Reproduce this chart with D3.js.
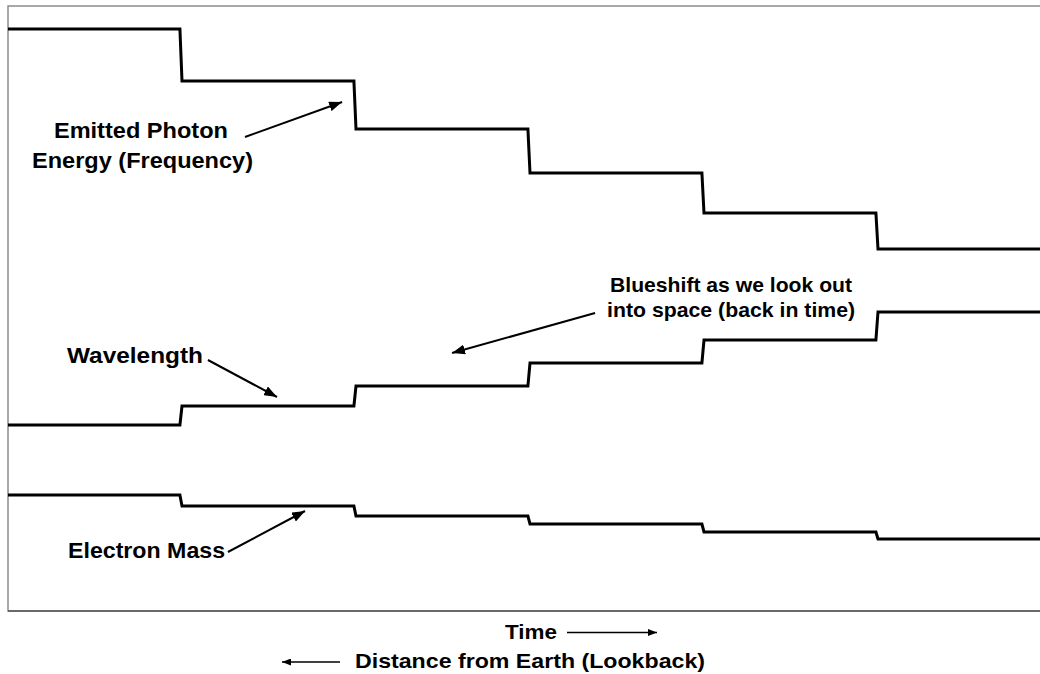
<!DOCTYPE html>
<html>
<head>
<meta charset="utf-8">
<script src="https://cdn.jsdelivr.net/npm/d3@7"></script>
<style>
  html, body { margin: 0; padding: 0; background: #fff; }
  svg { display: block; }
  text { font-family: "Liberation Sans", Arial, sans-serif; font-weight: bold; fill: #000; }
</style>
</head>
<body>
<svg id="chart" width="1040" height="674"></svg>
<script>
// ---- Data (arbitrary relative units) ----
const stepTimes = [1, 2, 3, 4, 5];                 // epochs where each value changes
const photonEnergy = [581, 529, 481, 437, 397, 361];
const wavelength   = [185, 204, 224, 247, 270, 298];
const electronMass = [115, 104, 94, 86, 78, 71];
const timeEnd = 5.94;
const slant = 0.012;                                 // width of each transition

const seriesLabels = [
  { lines: ["Emitted Photon", "Energy (Frequency)"], size: 22, t: [0.264, 0.138], v: [472, 442], w: [174, 221], from: [1.362, 473], to: [1.920, 508] },
  { lines: ["Wavelength"], size: 22, t: [0.339], v: [247], w: [136], from: [1.149, 250], to: [1.546, 213] },
  { lines: ["Electron Mass"], size: 22, t: [0.345], v: [52], w: [157], from: [1.264, 58], to: [1.707, 99] },
  { lines: ["Blueshift as we look out", "into space (back in time)"], size: 21, t: [3.460, 3.443], v: [318, 293], w: [242, 248], from: [3.374, 297], to: [2.552, 257] }
];
const xTitle = "Time";
const xTitle2 = "Distance from Earth (Lookback)";

// ---- Layout ----
const svg = d3.select("#chart");
const plot = { left: 8, top: 6, right: 1041, bottom: 611 };

const x = d3.scaleLinear().domain([0, timeEnd]).range([plot.left, plot.left + timeEnd * 174]);
const y = d3.scaleLinear().domain([0, 604]).range([plot.bottom - 1, plot.top]);

// markers
const defs = svg.append("defs");
defs.append("marker").attr("id", "ah").attr("viewBox", "0 0 13 10")
  .attr("refX", 13).attr("refY", 5).attr("markerWidth", 13).attr("markerHeight", 10)
  .attr("markerUnits", "userSpaceOnUse").attr("orient", "auto")
  .append("path").attr("d", "M0,0 L13,5 L0,10 Z").attr("fill", "#000");
defs.append("marker").attr("id", "ahs").attr("viewBox", "0 0 9 7")
  .attr("refX", 9).attr("refY", 3.5).attr("markerWidth", 9).attr("markerHeight", 7)
  .attr("markerUnits", "userSpaceOnUse").attr("orient", "auto")
  .append("path").attr("d", "M0,0 L9,3.5 L0,7 Z").attr("fill", "#000");

// plot frame
svg.append("rect")
  .attr("x", plot.left).attr("y", plot.top)
  .attr("width", plot.right - plot.left).attr("height", plot.bottom - plot.top)
  .attr("fill", "none").attr("stroke", "#8c8c8c").attr("stroke-width", 1.5);
svg.append("line")
  .attr("x1", plot.left).attr("x2", plot.right)
  .attr("y1", plot.bottom).attr("y2", plot.bottom)
  .attr("stroke", "#555").attr("stroke-width", 1.5);

// build step points
function stepPoints(vals) {
  const pts = [[0, vals[0]]];
  stepTimes.forEach((t, i) => {
    pts.push([t - slant, vals[i]]);
    pts.push([t, vals[i + 1]]);
  });
  pts.push([timeEnd, vals[vals.length - 1]]);
  return pts;
}
const line = d3.line().x(d => x(d[0])).y(d => y(d[1]));

[photonEnergy, wavelength, electronMass].forEach(vals => {
  svg.append("path")
    .attr("d", line(stepPoints(vals)))
    .attr("fill", "none").attr("stroke", "#000")
    .attr("stroke-width", 3).attr("stroke-linejoin", "miter");
});

// annotations
seriesLabels.forEach(a => {
  a.lines.forEach((s, i) => {
    svg.append("text")
      .attr("x", x(a.t[i])).attr("y", y(a.v[i]))
      .attr("font-size", a.size)
      .attr("textLength", a.w[i]).attr("lengthAdjust", "spacingAndGlyphs")
      .text(s);
  });
  svg.append("line")
    .attr("x1", x(a.from[0])).attr("y1", y(a.from[1]))
    .attr("x2", x(a.to[0])).attr("y2", y(a.to[1]))
    .attr("stroke", "#000").attr("stroke-width", 2)
    .attr("marker-end", "url(#ah)");
});

// axis titles with arrows
svg.append("text").attr("x", 505).attr("y", 638.5).attr("font-size", 21)
  .attr("textLength", 52).attr("lengthAdjust", "spacingAndGlyphs").text(xTitle);
svg.append("line").attr("x1", 567).attr("y1", 632.5).attr("x2", 657).attr("y2", 632.5)
  .attr("stroke", "#000").attr("stroke-width", 1.5).attr("marker-end", "url(#ahs)");

svg.append("text").attr("x", 355).attr("y", 667.5).attr("font-size", 21)
  .attr("textLength", 350).attr("lengthAdjust", "spacingAndGlyphs").text(xTitle2);
svg.append("line").attr("x1", 340).attr("y1", 662).attr("x2", 282).attr("y2", 662)
  .attr("stroke", "#000").attr("stroke-width", 1.5).attr("marker-end", "url(#ahs)");
</script>
</body>
</html>
